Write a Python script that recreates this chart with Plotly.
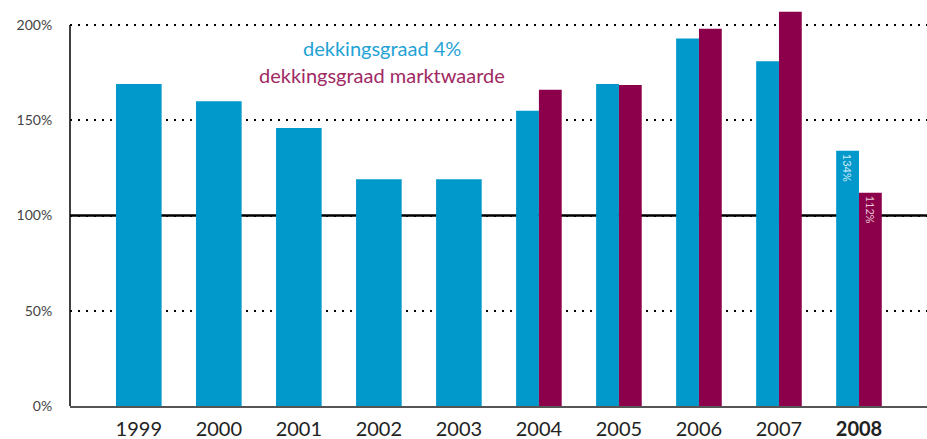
import plotly.graph_objects as go

years = ['1999', '2000', '2001', '2002', '2003', '2004', '2005', '2006', '2007', '2008']
dekking_4 = [169, 160, 146, 119, 119, 155, 169, 193, 181, 134]
dekking_markt = [None, None, None, None, None, 166, 168.5, 198, 207, 112]
tick_labels = ['1999', '2000', '2001', '2002', '2003', '2004', '2005', '2006', '2007', '<b>2008</b>']
y_ticks = [0, 50, 100, 150, 200]
y_tick_text = ['0%', '50%', '100%', '150%', '200%']

BLUE = '#0199cc'
PURPLE = '#8c004b'
FONT = 'Lato'

single_x = [y for y, m in zip(years, dekking_markt) if m is None]
single_y = [v for v, m in zip(dekking_4, dekking_markt) if m is None]
pair_x = [y for y, m in zip(years, dekking_markt) if m is not None]
pair_blue = [v for v, m in zip(dekking_4, dekking_markt) if m is not None]
pair_purple = [m for m in dekking_markt if m is not None]
last = years[-1]
blue_text = [f'{v:.0f}%' if y == last else '' for y, v in zip(pair_x, pair_blue)]
purple_text = [f'{v:.0f}%' if y == last else '' for y, v in zip(pair_x, pair_purple)]

W = 0.57
fig = go.Figure()
fig.add_trace(go.Bar(x=single_x, y=single_y, width=W, marker_color=BLUE,
                     marker_line_width=0, showlegend=False))
fig.add_trace(go.Bar(x=pair_x, y=pair_blue, width=W / 2, offset=-W / 2, marker_color=BLUE,
                     marker_line_width=0, showlegend=False,
                     text=blue_text, textposition='inside', insidetextanchor='end',
                     textangle=90, textfont=dict(size=11, color='#cfeaf7', family=FONT)))
fig.add_trace(go.Bar(x=pair_x, y=pair_purple, width=W / 2, offset=0, marker_color=PURPLE,
                     marker_line_width=0, showlegend=False,
                     text=purple_text, textposition='inside', insidetextanchor='end',
                     textangle=90, textfont=dict(size=11, color='#e8c6d6', family=FONT)))

fig.add_shape(type='line', xref='paper', yref='y', x0=0, x1=1, y0=100, y1=100,
              line=dict(color='black', width=2.5), layer='below')
fig.add_shape(type='line', xref='paper', yref='y', x0=0, x1=0, y0=0, y1=200,
              line=dict(color='black', width=1.5), layer='above')

fig.add_annotation(text='dekkingsgraad 4%', xref='paper', yref='y', x=0.3635, y=188,
                   showarrow=False, font=dict(size=20, color='#1fa3d6', family=FONT))
fig.add_annotation(text='dekkingsgraad marktwaarde', xref='paper', yref='y', x=0.3635, y=173.8,
                   showarrow=False, font=dict(size=20, color='#a02a64', family=FONT))

fig.update_layout(
    width=927, height=439,
    margin=dict(l=70, r=0, t=6, b=33),
    barmode='overlay',
    plot_bgcolor='white', paper_bgcolor='white',
    font=dict(family=FONT, color='#333'),
)
fig.update_xaxes(
    type='category', range=[-0.86, 9.85], automargin=False,
    tickvals=years, ticktext=tick_labels,
    tickfont=dict(size=20, color='#222', family=FONT),
    showline=True, linecolor='#555', linewidth=1.5,
    showgrid=False, ticks='', ticklabelstandoff=4,
)
fig.update_yaxes(
    range=[0, 210], tickvals=y_ticks, ticktext=y_tick_text, automargin=False,
    tickfont=dict(size=14, color='#444', family=FONT),
    showgrid=True, gridcolor='black', gridwidth=2, griddash='2px,6px',
    zeroline=False, showline=False, ticks='outside', ticklen=14, tickcolor='rgba(0,0,0,0)',
)

fig.write_html('out.html', config={'displayModeBar': False},
               post_script="document.body.style.margin='0';document.body.style.overflow='hidden';")
